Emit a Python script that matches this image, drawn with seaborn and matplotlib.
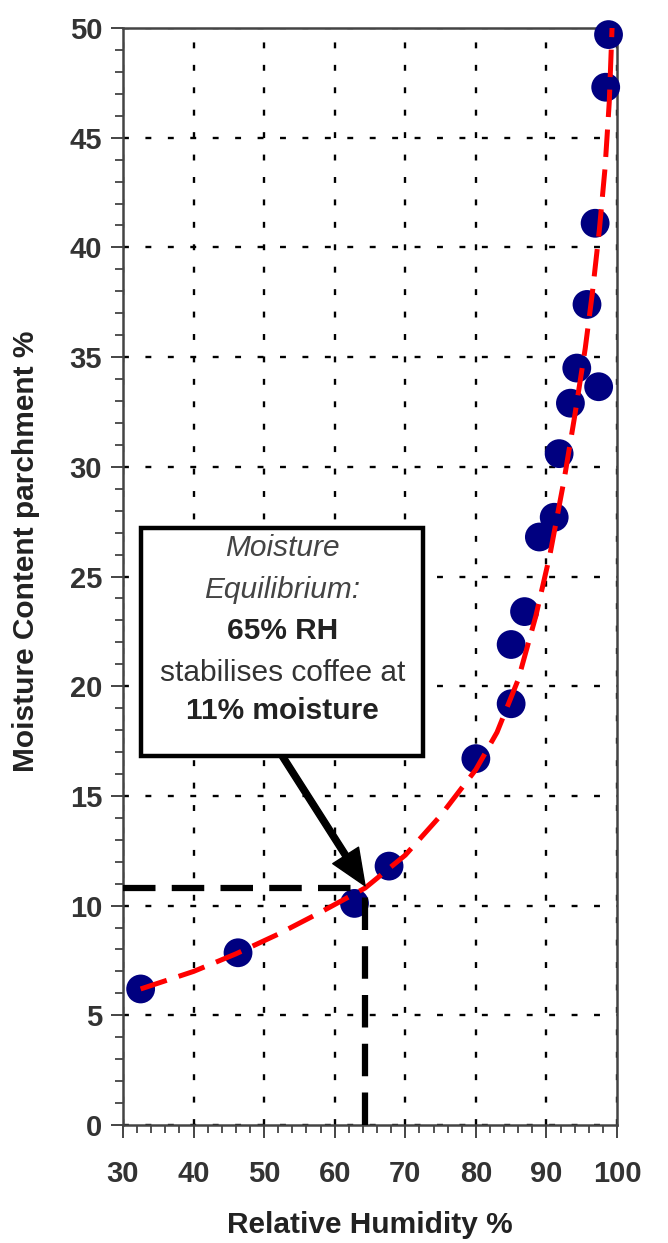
import numpy as np
import pandas as pd
import matplotlib
matplotlib.use("Agg")
import matplotlib.pyplot as plt
from matplotlib.patches import Rectangle
import seaborn as sns

# measured points (RH %, moisture content %)
rh = [32.5, 46.3, 62.8, 67.7, 80.0, 85.0, 85.0, 86.9, 89.0, 91.1,
      91.8, 93.4, 94.3, 97.4, 95.75, 96.9, 98.4, 98.8]
mc = [6.2, 7.85, 10.1, 11.8, 16.7, 19.2, 21.9, 23.4, 26.8, 27.7,
      30.6, 32.9, 34.5, 33.65, 37.4, 41.1, 47.3, 49.7]

# fitted curve
curve_rh = [32.5, 40, 46, 52, 58, 64.3, 70, 75, 80, 83, 86, 88.5,
            90.5, 92.5, 94, 95.5, 96.5, 97.5, 98.3, 98.9, 99.3]
curve_mc = [6.2, 7.0, 7.8, 8.7, 9.7, 10.8, 12.3, 14.1, 16.2, 17.9, 20.3, 23.2,
            26.0, 29.4, 32.3, 35.4, 37.9, 40.8, 43.6, 46.6, 50.0]

# equilibrium marker
eq_rh = 64.3
eq_mc = 10.8

box_lines = ["Moisture", "Equilibrium:", "65% RH", "stabilises coffee at", "11% moisture"]

df = pd.DataFrame({"rh": rh, "mc": mc})
df_curve = pd.DataFrame({"rh": curve_rh, "mc": curve_mc})

sns.set_theme(style="white")
plt.rcParams["font.family"] = ["Liberation Sans", "DejaVu Sans"]

fig = plt.figure(figsize=(6.68, 12.43), dpi=100)
ax = fig.add_axes([123 / 668, 1 - 1125 / 1243, 494 / 668, 1097 / 1243])

ax.set_xlim(30, 100)
ax.set_ylim(0, 50)
ax.set_xticks(np.arange(30, 101, 10))
ax.set_yticks(np.arange(0, 51, 5))
ax.set_xticks(np.arange(30, 101, 2), minor=True)
ax.set_yticks(np.arange(0, 51, 1), minor=True)
ax.grid(True, which="major", color="black", linestyle=(0, (2.5, 7)), linewidth=1.7)
ax.set_axisbelow(True)

sns.scatterplot(data=df, x="rh", y="mc", ax=ax, color="#000080", s=430,
                marker="o", edgecolor="none", zorder=3, clip_on=False)

# black dashed guide lines
ax.plot([30, eq_rh], [eq_mc, eq_mc], color="black", lw=4.5,
        linestyle=(0, (5.2, 2.6)), zorder=4, dash_capstyle="butt")
ax.plot([eq_rh, eq_rh], [0, eq_mc], color="black", lw=4.5,
        linestyle=(0, (5.2, 2.6)), zorder=4, dash_capstyle="butt")

sns.lineplot(data=df_curve, x="rh", y="mc", ax=ax, color="red", lw=3.6,
             linestyle=(0, (5.5, 2.5)), zorder=5, sort=False)

# annotation box
ax.add_patch(Rectangle((32.5, 16.8), 40.0, 10.4, facecolor="white",
                       edgecolor="black", lw=3.2, zorder=6))
ys = [26.3, 24.4, 22.5, 20.6, 18.85]
styles = [("italic", "normal", "#444444"), ("italic", "normal", "#444444"),
          ("normal", "bold", "#222222"), ("normal", "normal", "#333333"),
          ("normal", "bold", "#222222")]
for txt, yy, (st, wt, c) in zip(box_lines, ys, styles):
    ax.text(52.6, yy, txt, ha="center", va="center", fontsize=21.5,
            style=st, weight=wt, color=c, zorder=7)

ax.annotate("", xy=(eq_rh, eq_mc + 0.1), xytext=(52.6, 16.8),
            arrowprops=dict(facecolor="black", edgecolor="black", width=4.5,
                            headwidth=22, headlength=26, shrink=0),
            zorder=8)

for s in ax.spines.values():
    s.set_color("#444444")
    s.set_linewidth(1.8)
ax.tick_params(which="major", direction="out", length=9, width=1.4,
               color="#444444", labelsize=21, labelcolor="#333333")
ax.tick_params(which="minor", direction="out", length=6, width=1.3, color="#444444")
ax.tick_params(axis="x", which="major", pad=16)
ax.tick_params(axis="y", which="major", pad=6)
ax.tick_params(left=True, bottom=True, which="both")
for lab in ax.get_xticklabels() + ax.get_yticklabels():
    lab.set_fontweight("bold")

ax.set_xlabel("Relative Humidity %", fontsize=21.5, weight="bold", color="#222222")
ax.set_ylabel("Moisture Content parchment %", fontsize=21.5, weight="bold", color="#222222")
ax.xaxis.set_label_coords(0.5, -0.078)
ax.yaxis.set_label_coords(-0.168, 0.523)

fig.savefig("out.png", dpi=100)
